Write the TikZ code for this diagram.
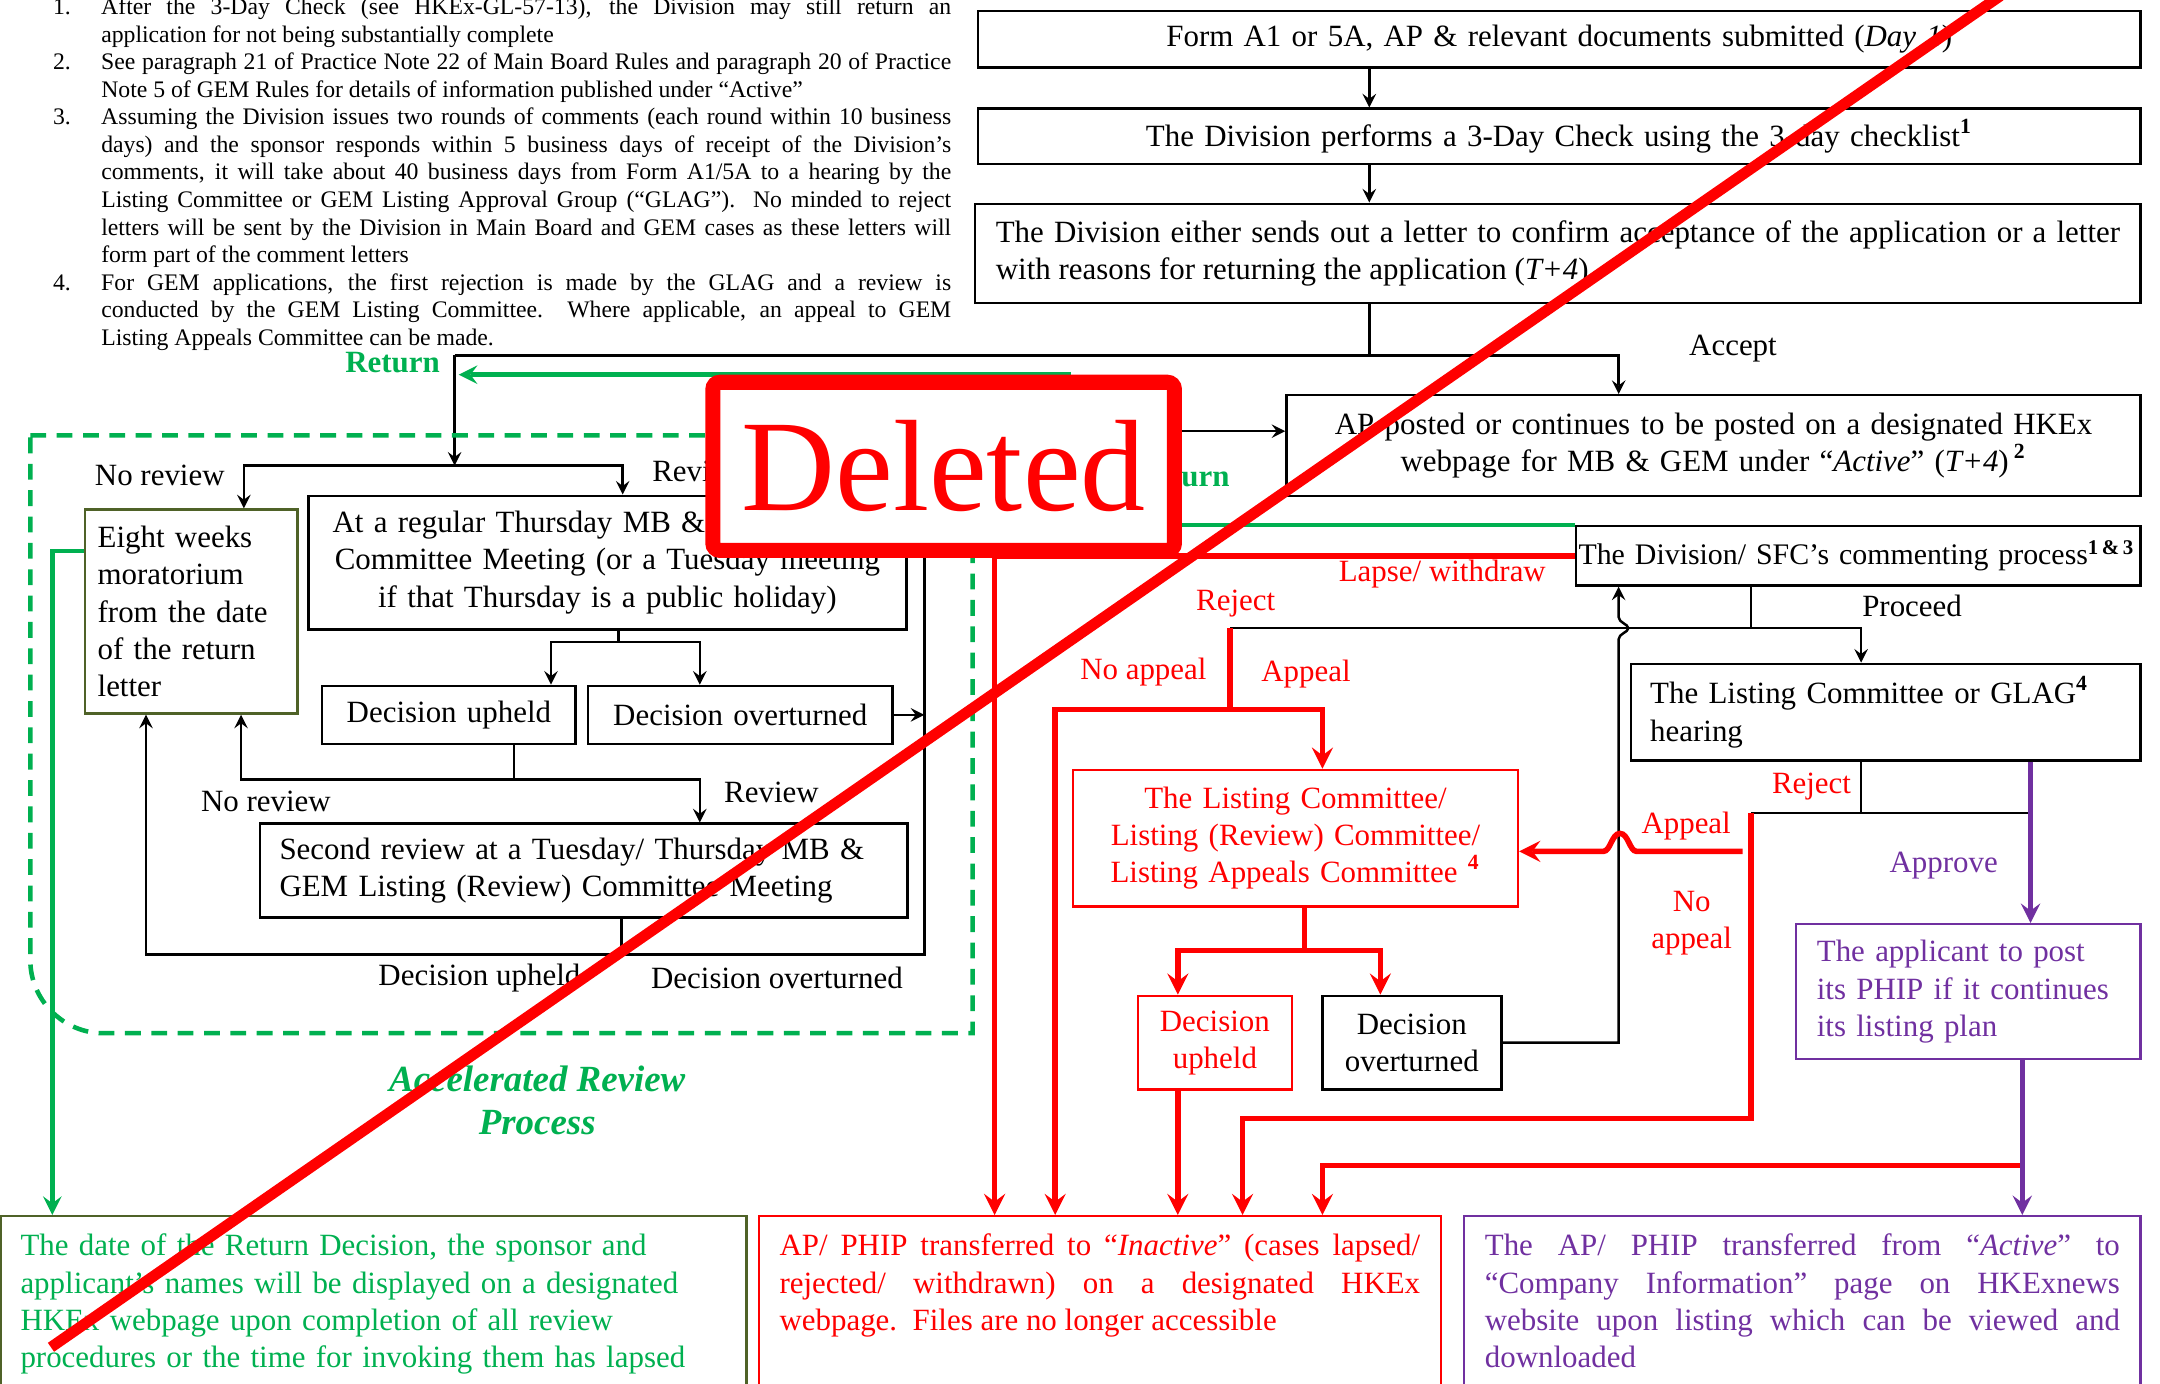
\documentclass[tikz,border=0pt]{standalone}
\usepackage{fontspec}
\setmainfont{Liberation Serif}
\newdimen\pxu
\pxu=0.013776cm
\definecolor{okgreen}{RGB}{0,176,80}
\definecolor{hkred}{RGB}{255,0,0}
\definecolor{hkpurple}{RGB}{112,48,160}
\definecolor{boxolive}{RGB}{79,98,40}
\newcommand{\boxfont}{\fontsize{8.8}{10.6}\selectfont}
\newcommand{\notefont}{\fontsize{6.75}{7.84}\selectfont}
\newcommand{\notenum}[1]{\noindent\llap{\makebox[35\pxu][l]{#1}}}

\begin{document}
\begin{tikzpicture}[>=stealth, x=0.013776cm, y=-0.013776cm,
    box/.style={draw, line width=0.7pt, anchor=north west, inner sep=0pt, font=\boxfont},
    lbl/.style={font=\boxfont, inner sep=0pt},
    blk/.style={line width=0.7pt},
    redline/.style={hkred, line width=1.6pt},
    grnline/.style={okgreen, line width=1.3pt},
    purline/.style={hkpurple, line width=1.4pt}]
    \useasboundingbox (0,0) rectangle (1568,1004);

    % footnotes
    \node[anchor=north west, inner sep=0pt, text width=617\pxu, align=justify, font=\notefont] (notes) at (73,-2) {%
        \notenum{1.}After the 3-Day Check (see HKEx-GL-57-13), the Division may still return an\linebreak application for not being substantially complete\par
        \notenum{2.}See paragraph 21 of Practice Note 22 of Main Board Rules and paragraph 20 of Practice\linebreak Note 5 of GEM Rules for details of information published under ``Active''\par
        \notenum{3.}Assuming the Division issues two rounds of comments (each round within 10 business\linebreak days) and the sponsor responds within 5 business days of receipt of the Division's\linebreak comments, it will take about 40 business days from Form A1/5A to a hearing by the\linebreak Listing Committee or GEM Listing Approval Group (``GLAG'').\ \ No minded to reject\linebreak letters will be sent by the Division in Main Board and GEM cases as these letters will\linebreak form part of the comment letters\par
        \notenum{4.}For GEM applications, the first rejection is made by the GLAG and a review is\linebreak conducted by the GEM Listing Committee.\ \ Where applicable, an appeal to GEM\linebreak Listing Appeals Committee can be made.};

    % main column
    \node[box, minimum width=844\pxu, minimum height=41\pxu, text width=820\pxu, align=center] (form) at (709,7)
        {Form A1 or 5A, AP \& relevant documents submitted (\textit{Day 1})};
    \node[box, minimum width=844\pxu, minimum height=40\pxu, text width=820\pxu, align=center] (check) at (709,78)
        {The Division performs a 3-Day Check using the 3-day checklist\textsuperscript{\textbf{1}}};
    \node[box, minimum width=846\pxu, minimum height=72\pxu, text width=816\pxu, align=justify] (letter) at (707,147)
        {The Division either sends out a letter to confirm acceptance of the application or a letter\linebreak with reasons for returning the application (\textit{T+4})};
    \node[box, minimum width=620\pxu, minimum height=73\pxu, text width=600\pxu, align=center] (ap) at (933,286)
        {AP posted or continues to be posted on a designated HKEx\\webpage for MB \& GEM under ``\textit{Active}'' (\textit{T+4})\,\textsuperscript{\textbf{2}}};
    \node[box, minimum width=410\pxu, minimum height=43\pxu, text width=406\pxu, align=left, font=\fontsize{8.5}{10.6}\selectfont] (sfc) at (1143,381)
        {The Division/ SFC's commenting process\textsuperscript{\textbf{1\,\&\,3}}};
    \node[box, minimum width=370\pxu, minimum height=70\pxu, text width=342\pxu, align=left] (hearing) at (1183,481)
        {The Listing Committee or GLAG\textsuperscript{\textbf{4}}\\hearing};
    \node[box, draw=hkpurple, text=hkpurple, minimum width=250\pxu, minimum height=98\pxu, text width=220\pxu, align=left] (post) at (1303,670)
        {The applicant to post\\its PHIP if it continues\\its listing plan};
    \node[box, draw=hkred, text=hkred, minimum width=323\pxu, minimum height=99\pxu, text width=310\pxu, align=center] (appeals) at (778,558)
        {The Listing Committee/\\Listing (Review) Committee/\\Listing Appeals Committee \textsuperscript{\textbf{4}}};
    \node[box, draw=hkred, text=hkred, minimum width=112\pxu, minimum height=68\pxu, text width=104\pxu, align=center] (upheldb) at (825,722)
        {Decision\\upheld};
    \node[box, minimum width=130\pxu, minimum height=68\pxu, text width=122\pxu, align=center] (overb) at (959,722)
        {Decision\\overturned};

    % accelerated review part
    \node[box, draw=boxolive, minimum width=154\pxu, minimum height=148\pxu, text width=136\pxu, align=left] (eight) at (61,369)
        {Eight weeks\\moratorium\\from the date\\of the return\\letter};
    \node[box, minimum width=434\pxu, minimum height=97\pxu, text width=420\pxu, align=center] (thursday) at (223,359)
        {At a regular Thursday MB \& GEM Listing\\Committee Meeting (or a Tuesday meeting\\if that Thursday is a public holiday)};
    \node[box, minimum width=184\pxu, minimum height=42\pxu, text width=180\pxu, align=center] (upheldA) at (233,497) {Decision upheld};
    \node[box, minimum width=221\pxu, minimum height=42\pxu, text width=215\pxu, align=center] (overA) at (426,497) {Decision overturned};
    \node[box, minimum width=470\pxu, minimum height=68\pxu, text width=442\pxu, align=left] (second) at (188,597)
        {Second review at a Tuesday/ Thursday MB \&\\GEM Listing (Review) Committee Meeting};
    \node[okgreen, font=\fontsize{10.5}{12.2}\selectfont\bfseries\itshape, align=center] (arp) at (390,799)
        {Accelerated Review\\Process};

    % results at the bottom
    \node[box, draw=boxolive, text=okgreen, minimum width=541\pxu, text width=513\pxu, inner ysep=13\pxu, text depth=150\pxu, align=left] (shown) at (0,882)
        {The date of the Return Decision, the sponsor and\\applicant's names will be displayed on a designated\\HKEx webpage upon completion of all review\\procedures or the time for invoking them has lapsed};
    \node[box, draw=hkred, text=hkred, minimum width=495\pxu, text width=465\pxu, inner ysep=13\pxu, text depth=150\pxu, align=justify] (inactive) at (550,882)
        {AP/ PHIP transferred to ``\textit{Inactive}'' (cases lapsed/\linebreak rejected/ withdrawn) on a designated HKEx\linebreak webpage.\ \ Files are no longer accessible};
    \node[box, draw=hkpurple, text=hkpurple, minimum width=491\pxu, text width=461\pxu, inner ysep=13\pxu, text depth=150\pxu, align=justify] (listed) at (1062,882)
        {The AP/ PHIP transferred from ``\textit{Active}'' to\linebreak ``Company Information'' page on HKExnews\linebreak website upon listing which can be viewed and\linebreak downloaded};

    % labels
    \node[lbl, okgreen, font=\boxfont\bfseries] (ret1) at (285,263) {Return};
    \node[lbl, okgreen, font=\boxfont\bfseries, anchor=east] (ret2) at (893,346) {Return};
    \node[lbl] (acc) at (1258,253) {Accept};
    \node[lbl] (norev1) at (116,345) {No review};
    \node[lbl, anchor=west] (rev1) at (473,342) {Review};
    \node[lbl] (norev2) at (193,582) {No review};
    \node[lbl] (rev2) at (560,575) {Review};
    \node[lbl] (dup) at (348,710) {Decision upheld};
    \node[lbl] (dov) at (564,710) {Decision overturned};
    \node[lbl, hkred] (lapse) at (1047,417) {Lapse/ withdraw};
    \node[lbl, hkred] (rej1) at (897,438) {Reject};
    \node[lbl] (proc) at (1388,440) {Proceed};
    \node[lbl, hkred] (noap1) at (830,488) {No appeal};
    \node[lbl, hkred] (ap1) at (948,489) {Appeal};
    \node[lbl, hkred] (rej2) at (1315,571) {Reject};
    \node[lbl, hkred] (ap2) at (1224,600) {Appeal};
    \node[lbl, hkred, align=center] (noap2) at (1228,670) {No\\appeal};
    \node[lbl, hkpurple] (apr) at (1411,628) {Approve};

    % junctions
    \coordinate (jlet) at (994,258);
    \coordinate (jacc) at (1175,258);
    \coordinate (jret) at (330,258);
    \coordinate (jsplit) at (330,338);
    \coordinate (jnorev) at (177,338);
    \coordinate (jrev) at (452,338);
    \coordinate (jthu) at (449,466);
    \coordinate (jdu) at (400,466);
    \coordinate (jdo) at (508,466);
    \coordinate (jup) at (373,566);
    \coordinate (jnr) at (175,566);
    \coordinate (jrv) at (508,566);
    \coordinate (jsec) at (451,693);
    \coordinate (jleft) at (106,693);
    \coordinate (jright) at (671,693);
    \coordinate (jover) at (671,313);
    \coordinate (jgreen) at (776,272);
    \coordinate (jgend) at (333,272);
    \coordinate (jmor) at (38,400);
    \coordinate (jlapse) at (722,401);
    \coordinate (jproc) at (1271,456);
    \coordinate (jrej) at (893,456);
    \coordinate (jhear) at (1351,456);
    \coordinate (jappeal) at (893,515);
    \coordinate (jnoap) at (766,515);
    \coordinate (jap) at (960,515);
    \coordinate (jlc) at (947,690);
    \coordinate (jlcu) at (855,690);
    \coordinate (jlco) at (1002,690);
    \coordinate (jback) at (1175,753);
    \coordinate (jh) at (1351,590);
    \coordinate (jhl) at (1271,590);
    \coordinate (jhr) at (1474,590);
    \coordinate (jnoap2) at (1271,812);
    \coordinate (jnoap3) at (902,812);
    \coordinate (japp2) at (1265,618);
    \coordinate (jlist) at (1468,846);
    \coordinate (jlist2) at (960,846);

    % black flow
    \draw[->, blk] (form.south -| jlet) -- (check.north -| jlet);
    \draw[->, blk] (check.south -| jlet) -- (letter.north -| jlet);
    \draw[blk] (letter.south -| jlet) -- (jlet);
    \draw[->, blk] (jret) -- (jacc) -- (ap.north -| jacc);
    \draw[->, blk] (jret) -- (jsplit);
    \draw[->, blk] (jsplit) -| (eight.north -| jnorev);
    \draw[->, blk] (jsplit) -| (thursday.north -| jrev);
    \draw[blk] (thursday.south -| jthu) -- (jthu);
    \draw[->, blk] (jthu) -| (upheldA.north -| jdu);
    \draw[->, blk] (jthu) -| (overA.north -| jdo);
    \draw[->, blk] (overA.east) -- (overA.east -| jright);
    \draw[blk] (upheldA.south -| jup) -- (jup);
    \draw[->, blk] (jup) -| (eight.south -| jnr);
    \draw[->, blk] (jup) -| (second.north -| jrv);
    \draw[blk] (second.south -| jsec) -- (jsec);
    \draw[->, blk] (jsec) -| (eight.south -| jleft);
    \draw[->, blk] (jsec) -- (jright) -- (jover) -- (ap.west |- jover);
    \draw[blk] (sfc.south -| jproc) -- (jproc);
    \draw[->, blk] (jrej) -- (jhear) -- (hearing.north -| jhear);
    \draw[->, blk] (overb.east) -- (overb.east -| jback) -- (1175,464)
        .. controls (1175,460) and (1182,459) .. (1182,456)
        .. controls (1182,453) and (1175,452) .. (1175,448) -- (sfc.south -| jback);
    \draw[blk] (hearing.south -| jh) -- (jh);
    \draw[blk] (jhl) -- (jhr);

    % green
    \draw[okgreen, line width=1.3pt, dash pattern=on 4.5pt off 3pt]
        (22,316) -- (706,316) -- (706,750) -- (75,750) .. controls (46,750) and (22,726) .. (22,697) -- cycle;
    \draw[->, grnline] (sfc.north west) -- (sfc.north west -| jgreen) -- (jgreen) -- (jgend);
    \draw[->, grnline] (eight.west |- jmor) -- (jmor) -- (shown.north -| jmor);

    % red
    \draw[->, redline] (sfc.west) -- (sfc.west -| jlapse) -- (inactive.north -| jlapse);
    \draw[->, redline] (jrej) -- (jappeal) -| (inactive.north -| jnoap);
    \draw[->, redline] (jappeal) -| (appeals.north -| jap);
    \draw[->, redline] (appeals.south -| jlc) -- (jlc) -| (upheldb.north -| jlcu);
    \draw[->, redline] (jlc) -| (overb.north -| jlco);
    \draw[->, redline] (upheldb.south -| jlcu) -- (inactive.north -| jlcu);
    \draw[->, redline] (jhl) -- (jnoap2) -- (jnoap3) -- (inactive.north -| jnoap3);
    \draw[->, redline] (japp2) -- (1188,618) .. controls (1183,618) and (1182,605) .. (1176,605)
        .. controls (1170,605) and (1169,618) .. (1164,618) -- (appeals.east |- japp2);
    \draw[->, redline] (jlist) -- (jlist2) -- (inactive.north -| jlist2);

    % purple
    \draw[->, purline] (hearing.south -| jhr) -- (post.north -| jhr);
    \draw[->, purline] (post.south -| jlist) -- (listed.north -| jlist);

    % deleted stamp
    \node[draw=hkred, line width=4.3pt, fill=white, rounded corners=2pt, minimum width=335\pxu, minimum height=122\pxu,
        inner sep=0pt, text=hkred, font=\fontsize{37}{40}\selectfont] (stamp) at (685,338.5) {Deleted};
    \draw[hkred, line width=3.1pt] (37,978) -- (1452,-3);
\end{tikzpicture}
\end{document}
